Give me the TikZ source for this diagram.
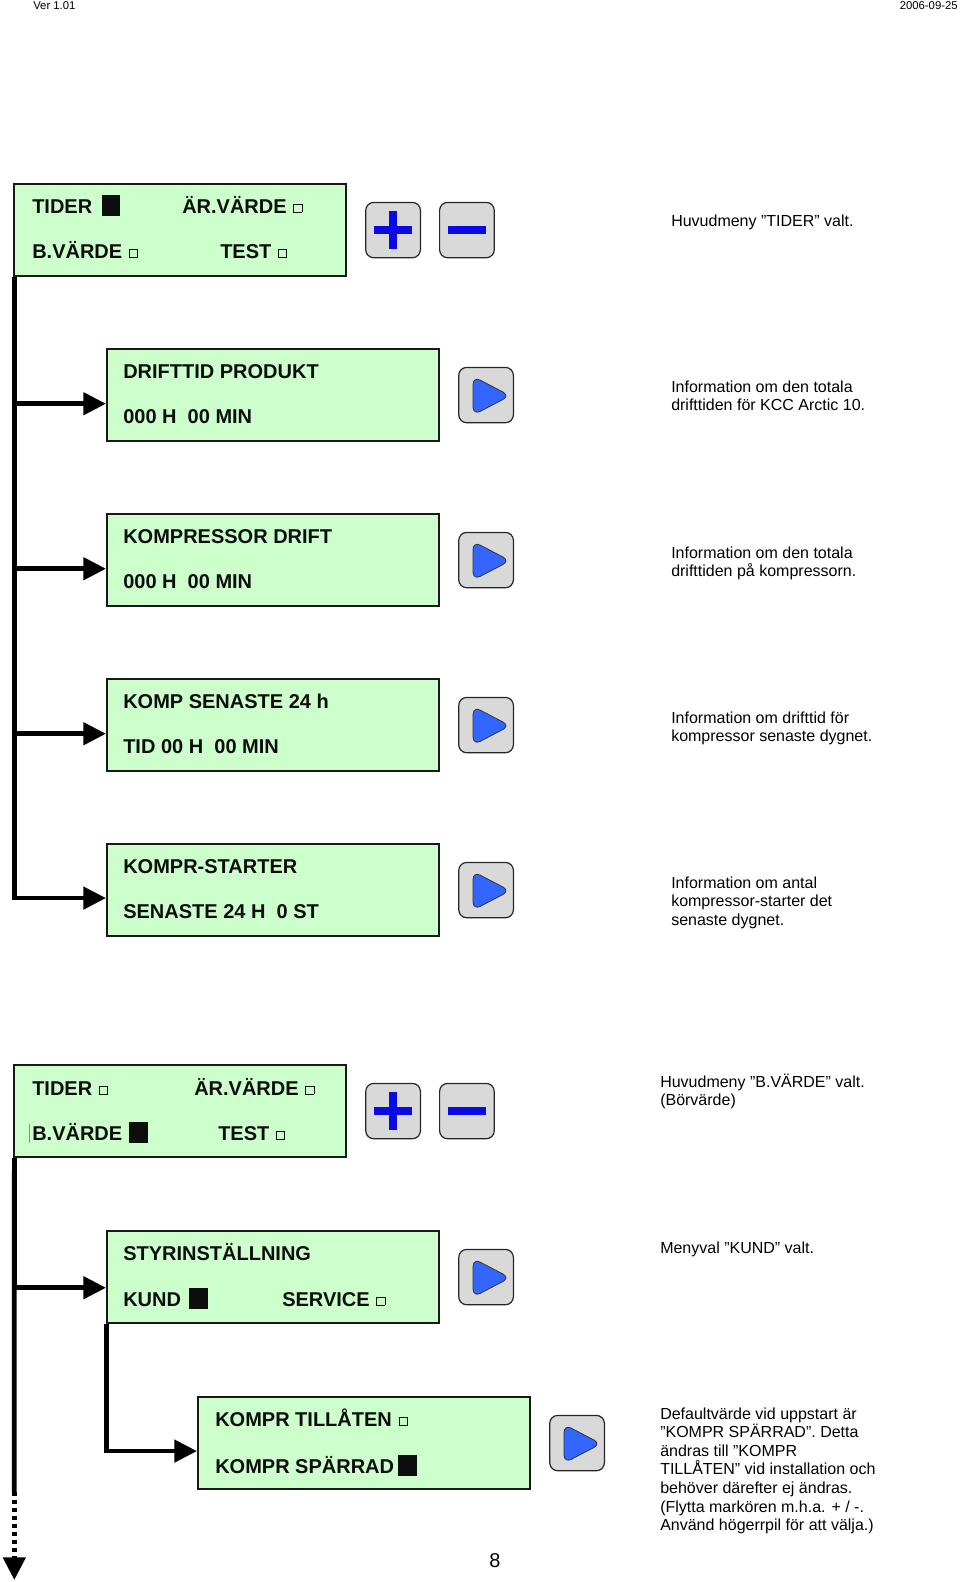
\documentclass[tikz,border=0pt]{standalone}
\usepackage{fontspec}
\setmainfont{Liberation Sans}
\usepackage{tikz}
\usetikzlibrary{arrows.meta,positioning}
\definecolor{lcdGreen}{RGB}{204,255,204}
\definecolor{keyBlue}{RGB}{10,10,230}
\definecolor{playBlue}{RGB}{51,102,255}
\newcommand\markon[1][5pt]{\hspace{#1}\rule[-2pt]{14pt}{15.5pt}}
\newcommand\markoff{\hspace{5pt}\raisebox{0.8pt}{\fboxsep=0pt\fboxrule=0.6pt\fbox{\rule{5.5pt}{0pt}\rule{0pt}{5.5pt}}}}
\tikzset{
  lcd/.style={draw=black!90, fill=lcdGreen, line width=1.6pt, anchor=north west,
    inner sep=0pt, minimum width=249pt, minimum height=69pt},
  lcdtext/.style={anchor=base west, inner sep=0pt, text=black!95,
    font=\fontsize{15pt}{18pt}\selectfont\bfseries},
  note/.style={anchor=base west, inner sep=0pt, align=left,
    font=\fontsize{12pt}{13.95pt}\selectfont},
  head/.style={inner sep=0pt, font=\fontsize{8.5pt}{10pt}\selectfont},
  key/.style={draw=black!85, fill=black!15, line width=0.9pt, rounded corners=6pt,
    minimum width=41pt, minimum height=41.5pt, inner sep=0pt},
  keysign/.style={draw=keyBlue, line width=6pt},
  pluskey/.style={key, path picture={
      \draw[keysign] ([xshift=-14pt]path picture bounding box.center) -- ([xshift=14pt]path picture bounding box.center);
      \draw[keysign] ([yshift=-14pt]path picture bounding box.center) -- ([yshift=14pt]path picture bounding box.center);}},
  minuskey/.style={key, path picture={
      \draw[keysign] ([xshift=-14pt]path picture bounding box.center) -- ([xshift=14pt]path picture bounding box.center);}},
  playkey/.style={key, path picture={
      \filldraw[fill=playBlue, draw=black!80, line width=0.6pt]
        ([shift={(-9.75pt,14pt)}]path picture bounding box.center)
        -- ([shift={(18pt,-0.5pt)}]path picture bounding box.center)
        -- ([shift={(-9.75pt,-15pt)}]path picture bounding box.center) -- cycle;}},
  link/.style={line width=3.5pt, -{Triangle[length=17pt,width=16.5pt]}}
}

\begin{document}
\begin{tikzpicture}[x=0.75pt, y=-0.75pt]
        \useasboundingbox (0,0) rectangle (960,1582);
        % page head and foot
        \node[head, anchor=base west] (ver) at (33,9) {Ver 1.01};
        \node[head, anchor=base east] (date) at (958,9) {2006-09-25};
        \node[anchor=base, inner sep=0pt, font=\fontsize{15pt}{18pt}\selectfont] (page) at (495,1567) {8};
        % main menu TIDER
        \node[lcd] (menuTider) at (13,183) {};
        \node[pluskey, right=13.5pt of menuTider] (plusA) {};
        \node[minuskey, right=13.5pt of plusA] (minusA) {};
        \node[lcdtext] (tiderA) at ([shift={(19,30)}]menuTider.north west) {TIDER\markon[7pt]};
        \node[lcdtext] (arA) at ([shift={(169,30)}]menuTider.north west) {ÄR.VÄRDE\markoff};
        \node[lcdtext] (bvA) at ([shift={(19,75)}]menuTider.north west) {B.VÄRDE\markoff};
        \node[lcdtext] (testA) at ([shift={(207,75)}]menuTider.north west) {TEST\markoff};
        % sub menus
        \node[lcd] (drift) at (106,348) {};
        \node[playkey, right=13.5pt of drift] (playDrift) {};
        \node[lcdtext] (driftA) at ([shift={(17,30)}]drift.north west) {DRIFTTID PRODUKT};
        \node[lcdtext] (driftB) at ([shift={(17,75)}]drift.north west) {000 H\ \ 00 MIN};
        \node[lcd] (kompDrift) at (106,513) {};
        \node[playkey, right=13.5pt of kompDrift] (playKomp) {};
        \node[lcdtext] (kompA) at ([shift={(17,30)}]kompDrift.north west) {KOMPRESSOR DRIFT};
        \node[lcdtext] (kompB) at ([shift={(17,75)}]kompDrift.north west) {000 H\ \ 00 MIN};
        \node[lcd] (senaste) at (106,678) {};
        \node[playkey, right=13.5pt of senaste] (playSenaste) {};
        \node[lcdtext] (senasteA) at ([shift={(17,30)}]senaste.north west) {KOMP SENASTE 24 h};
        \node[lcdtext] (senasteB) at ([shift={(17,75)}]senaste.north west) {TID 00 H\ \ 00 MIN};
        \node[lcd] (starter) at (106,843) {};
        \node[playkey, right=13.5pt of starter] (playStarter) {};
        \node[lcdtext] (starterA) at ([shift={(17,30)}]starter.north west) {KOMPR-STARTER};
        \node[lcdtext] (starterB) at ([shift={(17,75)}]starter.north west) {SENASTE 24 H\ \ 0 ST};
        % main menu B.VÄRDE
        \node[lcd] (menuBv) at (13,1064) {};
        \node[pluskey, right=13.5pt of menuBv] (plusB) {};
        \node[minuskey, right=13.5pt of plusB] (minusB) {};
        \node[lcdtext] (tiderB) at ([shift={(19,31)}]menuBv.north west) {TIDER\markoff};
        \node[lcdtext] (arB) at ([shift={(181,31)}]menuBv.north west) {ÄR.VÄRDE\markoff};
        \node[lcdtext] (bvB) at ([shift={(19,76)}]menuBv.north west) {\llap{\color{black!45}\rule[-2pt]{0.6pt}{14pt}\hspace{1.5pt}}B.VÄRDE\markon[5pt]};
        \node[lcdtext] (testB) at ([shift={(205,76)}]menuBv.north west) {TEST\markoff};
        \node[lcd] (styr) at (106,1230) {};
        \node[playkey, right=13.5pt of styr] (playStyr) {};
        \node[lcdtext] (styrA) at ([shift={(17,30)}]styr.north west) {STYRINSTÄLLNING};
        \node[lcdtext] (styrB) at ([shift={(17,76)}]styr.north west) {KUND\markon[6pt]};
        \node[lcdtext] (styrC) at ([shift={(176,76)}]styr.north west) {SERVICE\markoff};
        \node[lcd] (kompr) at (197,1396) {};
        \node[playkey, right=13.5pt of kompr] (playKompr) {};
        \node[lcdtext] (komprA) at ([shift={(18,30)}]kompr.north west) {KOMPR TILLÅTEN\markoff};
        \node[lcdtext] (komprB) at ([shift={(18,77)}]kompr.north west) {KOMPR SPÄRRAD\markon[3pt]};
        % notes (base = last line)
        \node[note] (noteTider) at (671,226) {Huvudmeny ”TIDER” valt.};
        \node[note] (noteDrift) at (671,410.6) {Information om den totala\\drifttiden för KCC Arctic 10.};
        \node[note] (noteKomp) at (671,576.6) {Information om den totala\\drifttiden på kompressorn.};
        \node[note] (noteSenaste) at (671,741.6) {Information om drifttid för\\kompressor senaste dygnet.};
        \node[note] (noteStarter) at (671,925.2) {Information om antal\\kompressor-starter det\\senaste dygnet.};
        \node[note] (noteBv) at (660,1105.6) {Huvudmeny ”B.VÄRDE” valt.\\(Börvärde)};
        \node[note] (noteStyr) at (660,1253) {Menyval ”KUND” valt.};
        \node[note] (noteKompr) at (660,1530.6) {Defaultvärde vid uppstart är\\”KOMPR SPÄRRAD”. Detta\\ändras till ”KOMPR\\TILLÅTEN” vid installation och\\behöver därefter ej ändras.\\(Flytta markören m.h.a. + / -.\\Använd högerrpil för att välja.)};
        % connectors
        \draw[link] ([xshift=1pt]menuTider.south west) |- ([yshift=-6.5pt]drift.west);
        \draw[link] ([xshift=1pt]menuTider.south west) |- ([yshift=-6.5pt]kompDrift.west);
        \draw[link] ([xshift=1pt]menuTider.south west) |- ([yshift=-6.5pt]senaste.west);
        \draw[link] ([xshift=1pt]menuTider.south west) |- ([yshift=-6pt]starter.west);
        \coordinate (dotStart) at (14.33,1492);
        \coordinate (trunkEnd) at (14.33,1580);
        \draw[link] ([xshift=1pt]menuBv.south west) |- ([yshift=-8pt]styr.west);
        \draw[line width=3.5pt] ([xshift=1pt]menuBv.south west) -- (dotStart);
        \draw[link, dash pattern=on 3pt off 3pt] (dotStart) -- (trunkEnd);
        \draw[link] ([xshift=0.5pt]styr.south west) |- ([yshift=-6pt]kompr.west);
\end{tikzpicture}
\end{document}
